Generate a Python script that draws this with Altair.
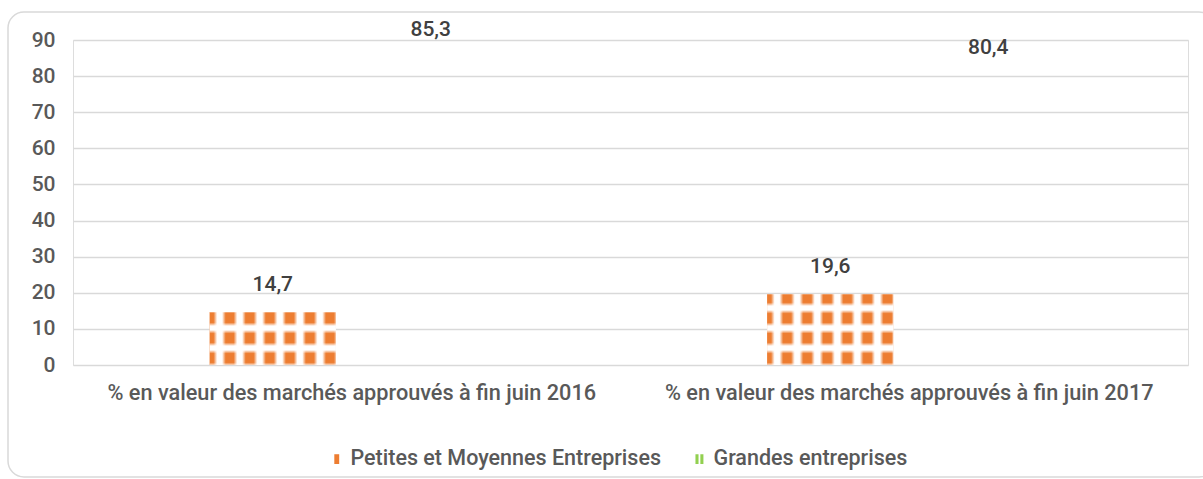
import altair as alt
import pandas as pd

categories = [
    "% en valeur des marchés approuvés à fin juin 2016",
    "% en valeur des marchés approuvés à fin juin 2017",
]
series = ["Petites et Moyennes Entreprises", "Grandes entreprises"]
pme_values = [14.7, 19.6]
grandes_values = [85.3, 80.4]

rows = []
for i, c in enumerate(categories):
    rows.append({"category": c, "series": series[0], "value": pme_values[i]})
    rows.append({"category": c, "series": series[1], "value": grandes_values[i]})
df = pd.DataFrame(rows)

# ---- styling ----
ORANGE = "#ED7D31"
GREEN = "#92D050"
TEXT = "#595959"
GRID = "#D9D9D9"
FONT = "Roboto"
FS = 21
W, H = 1115, 325
YMAX = 90


def col_gradient(n_per=6.3, phase=0.0):
    stops = []
    steps = 200
    for i in range(steps + 1):
        t = i / steps
        u = (t * n_per + phase) % 1.0
        d = min(u, 1 - u) * 2  # 0 at centre, 1 at midpoint
        w = min(max((d - 0.4) / 0.35, 0), 1)
        r = int(0xED + (255 - 0xED) * w)
        g = int(0x7D + (255 - 0x7D) * w)
        b = int(0x31 + (255 - 0x31) * w)
        stops.append({"offset": t, "color": f"rgb({r},{g},{b})"})
    return {"gradient": "linear", "x1": 0, "x2": 1, "y1": 0, "y2": 0, "stops": stops}


def row_gradient(h, period=20.0, first=7.0):
    stops = []
    steps = 200
    for i in range(steps + 1):
        t = i / steps
        px = (1 - t) * h  # distance from bottom
        u = ((px - first) / period) % 1.0
        d = min(u, 1 - u) * 2
        a = min(max((d - 0.45) / 0.35, 0), 1)
        stops.append({"offset": t, "color": f"rgba(255,255,255,{a:.3f})"})
    return {"gradient": "linear", "x1": 0, "x2": 0, "y1": 0, "y2": 1, "stops": stops}


x_enc = alt.X(
    "category:N",
    sort=categories,
    scale=alt.Scale(paddingInner=0.49, paddingOuter=0.245),
    axis=alt.Axis(
        title=None, labelAngle=0, ticks=False, domain=False,
        labelFont=FONT, labelFontSize=21.7, labelFontWeight=500, labelColor=TEXT,
        labelPadding=17, labelLimit=800,
    ),
)
xoff_enc = alt.XOffset("series:N", sort=series,
                       scale=alt.Scale(paddingInner=0.2, paddingOuter=0))
y_enc = alt.Y(
    "value:Q",
    scale=alt.Scale(domain=[0, YMAX], nice=False),
    axis=alt.Axis(
        title=None, values=list(range(0, 100, 10)), ticks=False, domain=False,
        labelFont=FONT, labelFontSize=FS, labelFontWeight=500, labelColor=TEXT,
        labelPadding=18, gridColor=GRID, gridWidth=1.5,
    ),
)

base = alt.Chart(df)

pme = base.transform_filter(alt.datum.series == series[0])

h1 = pme_values[0] / YMAX * H
h2 = pme_values[1] / YMAX * H

bars_pme = pme.mark_bar(strokeWidth=0).encode(
    x=x_enc, xOffset=xoff_enc, y=y_enc,
    fill=alt.value(col_gradient()),
)
bars_rows = pme.mark_bar(strokeWidth=0).encode(
    x=x_enc, xOffset=xoff_enc, y=y_enc,
    fill=alt.condition(
        f"datum.category === '{categories[0]}'",
        alt.value(row_gradient(h1)),
        alt.value(row_gradient(h2)),
    ),
)
bars_grandes = base.transform_filter(alt.datum.series == series[1]).mark_bar(
    opacity=0
).encode(x=x_enc, xOffset=xoff_enc, y=y_enc)

labels = base.transform_calculate(
    label="replace(format(datum.value, '.1f'), '.', ',')"
).mark_text(
    baseline="bottom", dy=-17, font=FONT, fontSize=FS, fontWeight=500,
    color="#404040"
).encode(x=x_enc, xOffset=xoff_enc, y=y_enc, text="label:N")

legend_cfg = dict(
    title=None, orient="none", legendX=253, legendY=408, direction="horizontal",
    labelFont=FONT, labelFontSize=21.5, labelFontWeight=500, labelColor=TEXT,
    labelLimit=600, symbolOpacity=1, symbolSize=150, columnPadding=28,
    labelOffset=3, symbolStrokeWidth=0,
)

legend_pts = base.mark_point(filled=True, opacity=0).encode(
    x=x_enc, xOffset=xoff_enc, y=y_enc,
    color=alt.Color(
        "series:N", sort=series,
        scale=alt.Scale(domain=series, range=[ORANGE, GREEN]),
        legend=alt.Legend(**legend_cfg),
    ),
    shape=alt.Shape(
        "series:N", sort=series,
        scale=alt.Scale(
            domain=series,
            range=[
                "M-0.4,-0.8H0.4V0.8H-0.4Z",
                "M-0.7,-0.8H-0.2V0.8H-0.7Z M0.1,-0.8H0.6V0.8H0.1Z",
            ],
        ),
        legend=alt.Legend(**legend_cfg),
    ),
)

frame = alt.Chart(alt.Data(values=[{}])).mark_rect(
    fill=None, stroke=GRID, strokeWidth=1.5, cornerRadius=16
).encode(
    x=alt.value(8 - 73), x2=alt.value(1215 - 73),
    y=alt.value(12 - 40), y2=alt.value(477 - 40),
)

chart = alt.layer(
    frame, bars_pme, bars_rows, bars_grandes, labels, legend_pts
).properties(
    width=W, height=H,
    autosize=alt.AutoSizeParams(type="none"),
    padding={"left": 73, "top": 40, "right": 15, "bottom": 114},
).configure_view(stroke=None).configure(background="white")

chart.save("out.html", embed_options={"renderer": "svg", "actions": False})
